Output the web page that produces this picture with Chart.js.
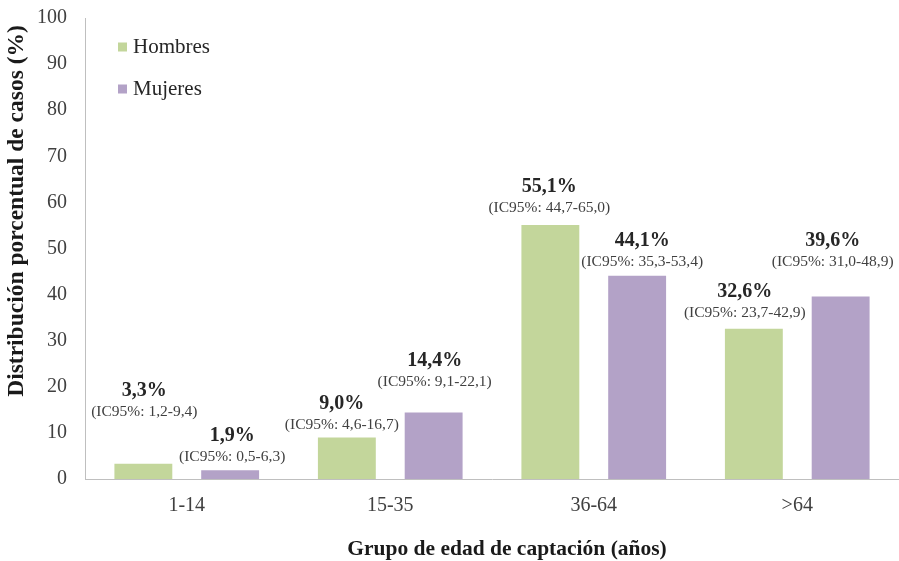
<!DOCTYPE html>
<html>
<head>
<meta charset="utf-8">
<script src="https://cdn.jsdelivr.net/npm/chart.js@4/dist/chart.umd.min.js"></script>
<style>
  html, body { margin: 0; padding: 0; background: #ffffff; }
  #wrap { width: 899px; height: 561px; position: relative; }
</style>
</head>
<body>
<div id="wrap"><canvas id="chart"></canvas></div>
<script>
// Age groups and percentage distribution of cases by sex
const categories = ['1-14', '15-35', '36-64', '>64'];
const hombres = [3.3, 9.0, 55.1, 32.6];
const mujeres = [1.9, 14.4, 44.1, 39.6];
const hombresIC = ['1,2-9,4', '4,6-16,7', '44,7-65,0', '23,7-42,9'];
const mujeresIC = ['0,5-6,3', '9,1-22,1', '35,3-53,4', '31,0-48,9'];
const yTicks = [0, 10, 20, 30, 40, 50, 60, 70, 80, 90, 100];
const xTitle = 'Grupo de edad de captación (años)';
const yTitle = 'Distribución porcentual de casos (%)';

// Placement of each value label relative to its bar: [dx, lift] in px
const hombresLabelPos = [[1, 52], [-5, 13], [-1, 17], [-9, 16]];
const mujeresLabelPos = [[2, 13], [1, 31], [5, 14], [-8, 35]];

const SERIF = '"Liberation Serif", "Times New Roman", serif';
const GREEN = '#c3d69b';
const PURPLE = '#b3a2c7';

const fmt = v => v.toFixed(1).replace('.', ',') + '%';

const valueLabels = {
  id: 'valueLabels',
  afterDatasetsDraw(chart) {
    const ctx = chart.ctx;
    const sets = [
      { ic: hombresIC, pos: hombresLabelPos },
      { ic: mujeresIC, pos: mujeresLabelPos }
    ];
    chart.data.datasets.forEach((ds, di) => {
      const meta = chart.getDatasetMeta(di);
      meta.data.forEach((bar, i) => {
        const [dx, lift] = sets[di].pos[i];
        const cx = bar.x + dx;
        const icY = bar.y - lift;
        ctx.save();
        ctx.textAlign = 'center';
        ctx.textBaseline = 'middle';
        ctx.fillStyle = '#262626';
        ctx.font = 'bold 20px ' + SERIF;
        ctx.fillText(fmt(ds.data[i]), cx, icY - 21);
        ctx.fillStyle = '#404040';
        ctx.font = '15.5px ' + SERIF;
        ctx.fillText('(IC95%: ' + sets[di].ic[i] + ')', cx, icY);
        ctx.restore();
      });
    });
  }
};

// Legend drawn inside the plot area, top left
const insideLegend = {
  id: 'insideLegend',
  afterDraw(chart) {
    const ctx = chart.ctx;
    const area = chart.chartArea;
    ctx.save();
    chart.data.datasets.forEach((ds, i) => {
      const cy = area.top + 29 + i * 42;
      ctx.fillStyle = ds.backgroundColor;
      ctx.fillRect(area.left + 33, cy - 4.5, 9, 9);
      ctx.fillStyle = '#262626';
      ctx.font = '21px ' + SERIF;
      ctx.textAlign = 'left';
      ctx.textBaseline = 'middle';
      ctx.fillText(ds.label, area.left + 48, cy);
    });
    ctx.restore();
  }
};

// Axis titles
const axisTitles = {
  id: 'axisTitles',
  afterDraw(chart) {
    const ctx = chart.ctx;
    const area = chart.chartArea;
    ctx.save();
    ctx.fillStyle = '#1a1a1a';
    ctx.textAlign = 'center';
    ctx.textBaseline = 'middle';
    ctx.font = 'bold 21.5px ' + SERIF;
    ctx.fillText(xTitle, area.left + (area.right - area.left) / 2 + 15, chart.height - 12);
    ctx.translate(17, area.top + 193);
    ctx.rotate(-Math.PI / 2);
    ctx.font = 'bold 23.5px ' + SERIF;
    ctx.fillText(yTitle, 0, 0);
    ctx.restore();
  }
};

new Chart(document.getElementById('chart'), {
  type: 'bar',
  data: {
    labels: categories,
    datasets: [
      { label: 'Hombres', data: hombres, backgroundColor: GREEN },
      { label: 'Mujeres', data: mujeres, backgroundColor: PURPLE }
    ]
  },
  options: {
    responsive: true,
    maintainAspectRatio: false,
    animation: false,
    layout: { padding: { top: 18, right: 0, left: 0, bottom: 0 } },
    datasets: { bar: { categoryPercentage: 0.853, barPercentage: 0.667 } },
    plugins: { legend: { display: false }, tooltip: { enabled: false } },
    scales: {
      x: {
        grid: { display: false, drawTicks: false },
        border: { display: true, color: '#bfbfbf', width: 1 },
        ticks: { color: '#404040', font: { family: SERIF, size: 20 }, padding: 15 },
        afterFit(scale) { scale.height = 82; }
      },
      y: {
        min: 0,
        max: 100,
        afterBuildTicks(scale) { scale.ticks = yTicks.map(v => ({ value: v })); },
        grid: { display: false, drawTicks: false },
        border: { display: true, color: '#bfbfbf', width: 1 },
        ticks: { color: '#404040', font: { family: SERIF, size: 20 }, padding: 18 },
        afterFit(scale) {
          scale.width = 85;
          scale.paddingTop = 0;
          scale.paddingBottom = 0;
        }
      }
    }
  },
  plugins: [valueLabels, insideLegend, axisTitles]
});
</script>
</body>
</html>
